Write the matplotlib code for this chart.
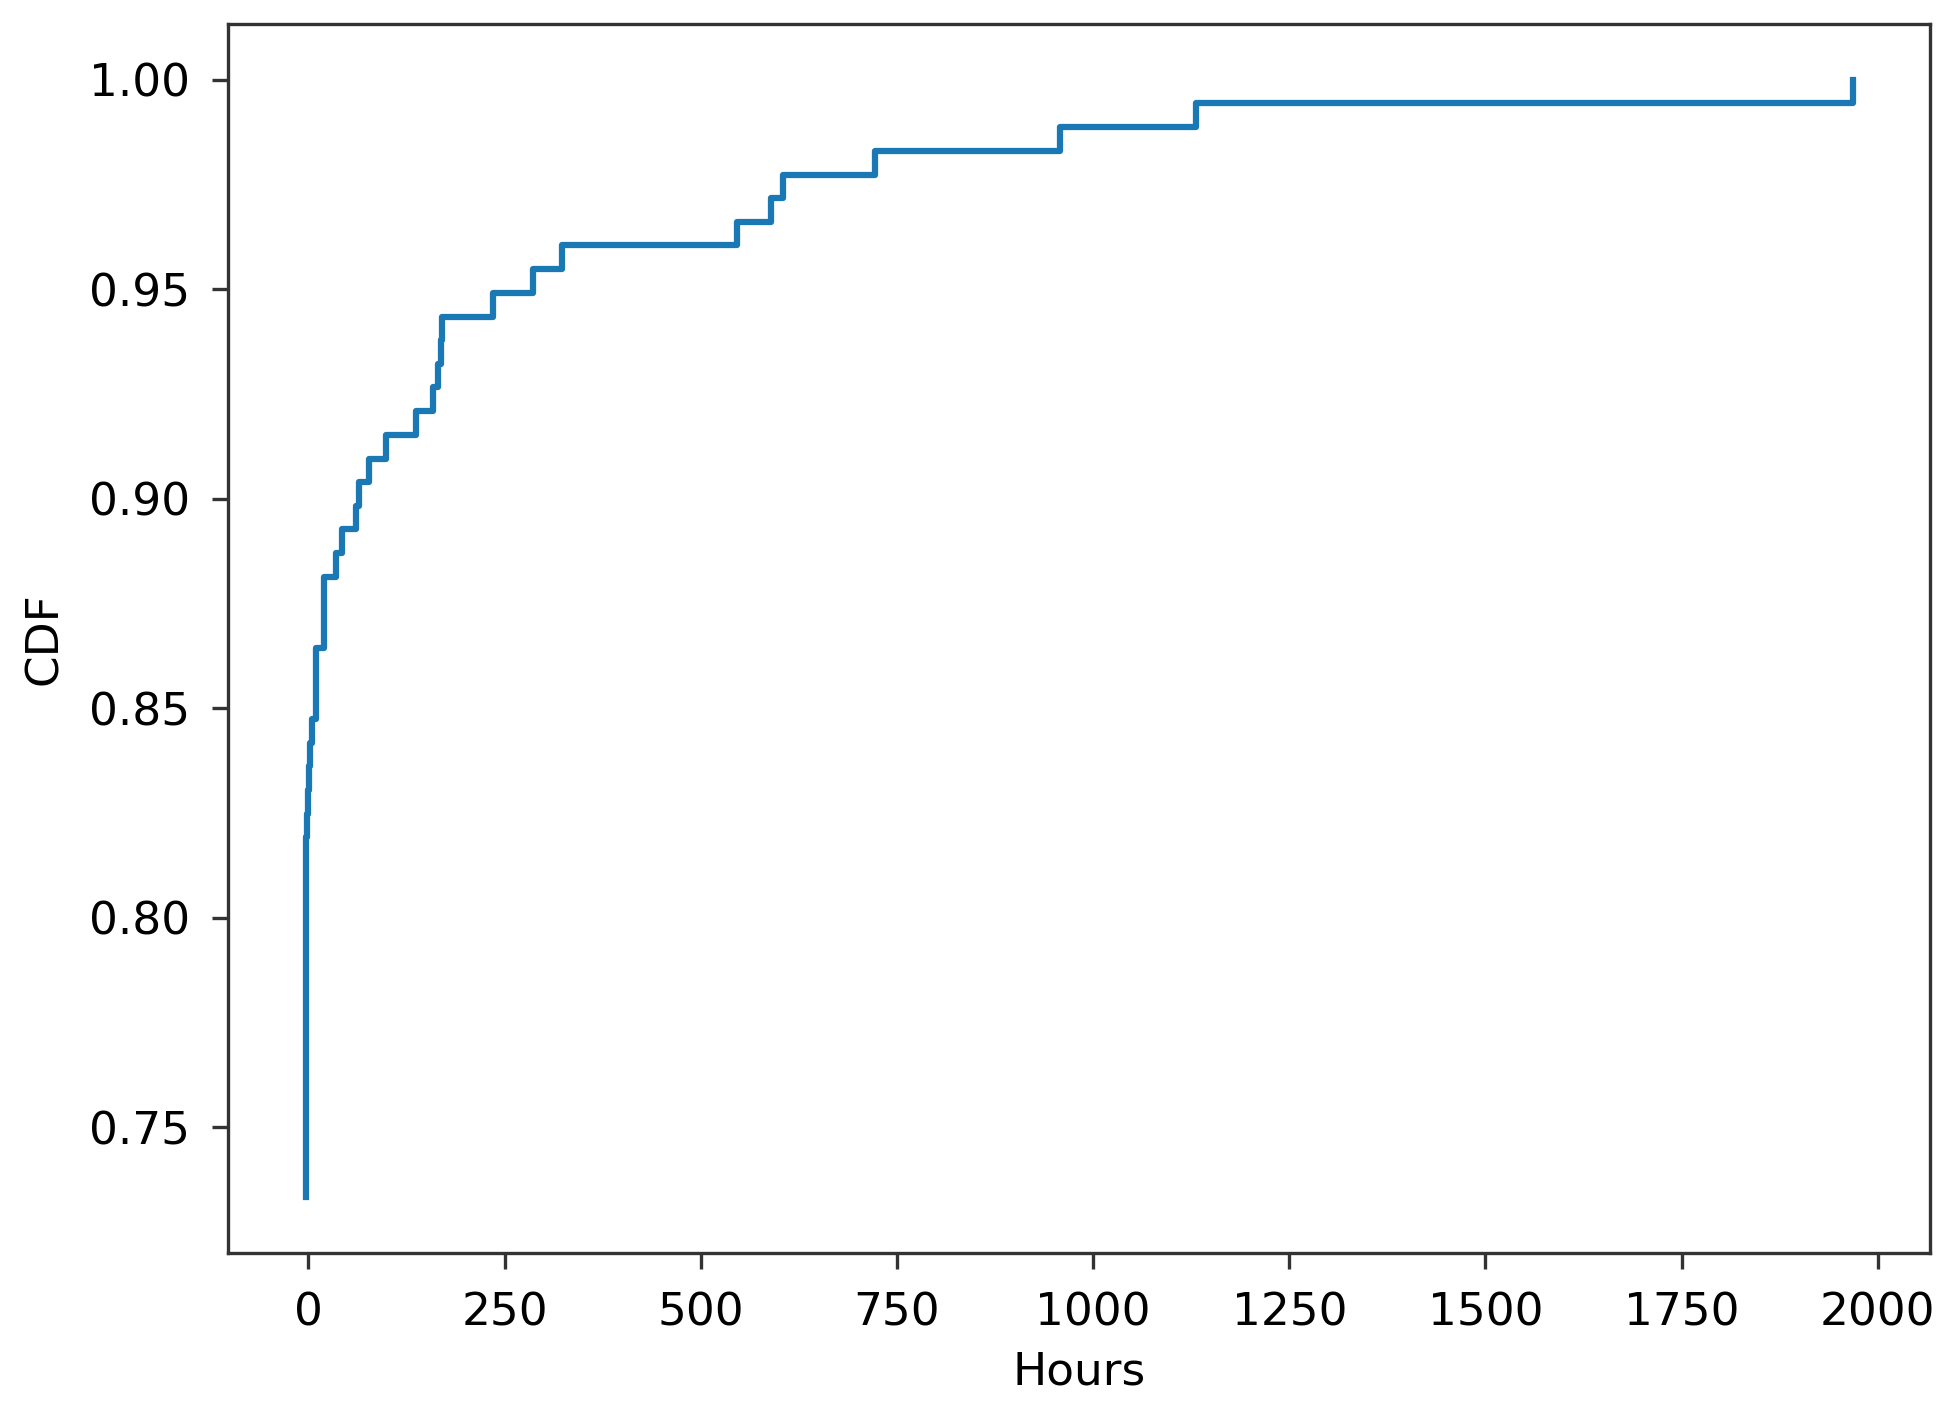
import matplotlib
matplotlib.use("Agg")
import matplotlib.pyplot as plt

# Step positions (hours) and CDF level reached at each step
hours = [-3.5, -3.5, -2.5, -1.5, -0.5, 0.5, 1.5, 5.0, 9.8, 9.8, 9.8,
         20.0, 20.0, 20.0, 34.8, 43.4, 60.3, 64.6, 77.3, 98.6, 137.0,
         158.5, 165.7, 168.5, 170.0, 235.8, 286.7, 322.8, 545.7, 590.0,
         605.0, 722.0, 957.6, 1131.7, 1968.0]
cdf = [0.7333, 0.8136, 0.8192, 0.8249, 0.8305, 0.8362, 0.8418, 0.8475,
       0.8531, 0.8588, 0.8644, 0.8701, 0.8757, 0.8814, 0.8870, 0.8927,
       0.8983, 0.9040, 0.9096, 0.9153, 0.9209, 0.9266, 0.9322, 0.9379,
       0.9435, 0.9492, 0.9548, 0.9605, 0.9661, 0.9718, 0.9774, 0.9831,
       0.9887, 0.9944, 1.0000]

x_ticks = [0, 250, 500, 750, 1000, 1250, 1500, 1750, 2000]
y_ticks = [0.75, 0.80, 0.85, 0.90, 0.95, 1.00]

plt.rcParams['font.family'] = ['DejaVu Sans']
plt.rcParams['font.size'] = 10.9

fig = plt.figure(figsize=(1946 / 300, 1411 / 300), dpi=300)
ax = fig.add_axes([0.1173, 0.1118, 0.8745, 0.8712])
ax.step(hours, cdf, where='post', color='#1a78b4', linewidth=1.5)
ax.set_xticks(x_ticks)
ax.set_yticks(y_ticks)
ax.set_yticklabels([f"{v:.2f}" for v in y_ticks])
ax.tick_params(axis='both', length=3.8, pad=5.3, color='#333333')
for s in ax.spines.values():
    s.set_color('#333333')
ax.set_xlabel("Hours", labelpad=4)
ax.set_ylabel("CDF", labelpad=5.5)
fig.savefig("out.png", dpi=300)
